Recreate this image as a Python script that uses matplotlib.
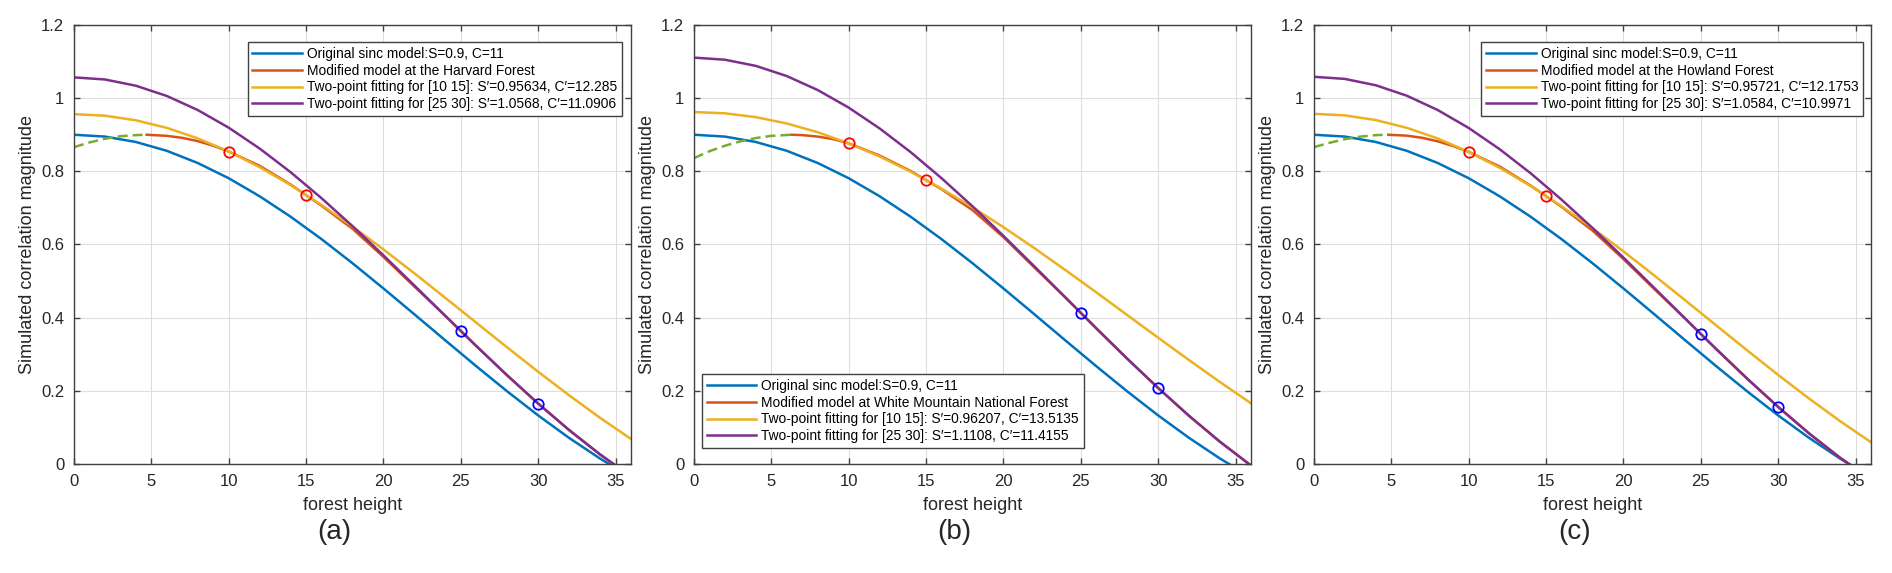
import matplotlib
matplotlib.use("Agg")
import matplotlib.pyplot as plt
from matplotlib.ticker import FuncFormatter

plt.rcParams['font.family'] = ['Liberation Sans', 'DejaVu Sans']

# forest height samples (m)
heights = [0, 2, 4, 6, 8, 10, 12, 14, 16, 18, 20, 22, 24, 26, 28, 30, 32, 34, 36]

# original sinc model, same in all panels
blue = [0.9000, 0.8950, 0.8802, 0.8561, 0.8227, 0.7811, 0.7318, 0.6760, 0.6146, 0.5488,
        0.4799, 0.4092, 0.3379, 0.2673, 0.1985, 0.1328, 0.0713, 0.0148, -0.0359]

# (a) Harvard Forest
orange_a = [0.9563, 0.9521, 0.9395, 0.9188, 0.8902, 0.8542, 0.8114, 0.7624, 0.7080, 0.6491,
            0.5865, 0.5212, 0.4541, 0.3863, 0.3186, 0.2522, 0.1878, 0.1262, 0.0684]
purple_a = [1.0568, 1.0511, 1.0340, 1.0060, 0.9675, 0.9193, 0.8623, 0.7977, 0.7265, 0.6503,
            0.5703, 0.4880, 0.4049, 0.3225, 0.2422, 0.1652, 0.0928, 0.0261, -0.0339]
red_h_a = [4.7, 6, 7, 8, 9, 10, 12, 14, 16, 18, 20, 22, 24, 26, 28, 30, 32, 34, 36]
red_a = [0.900, 0.897, 0.8915, 0.8826, 0.870, 0.8542, 0.815, 0.764, 0.706, 0.643,
         0.566, 0.485, 0.4049, 0.3225, 0.2422, 0.1652, 0.0928, 0.0261, -0.0339]
green_h_a = [0, 1, 2, 3, 4, 4.7]
green_a = [0.866, 0.879, 0.889, 0.896, 0.899, 0.900]
pts_lo_a = [0.8542, 0.7353]
pts_hi_a = [0.3635, 0.1652]

# (b) White Mountain National Forest
orange_b = [0.9621, 0.9586, 0.9481, 0.9308, 0.9068, 0.8766, 0.8405, 0.7990, 0.7525, 0.7018,
            0.6474, 0.5900, 0.5303, 0.4692, 0.4072, 0.3452, 0.2839, 0.2239, 0.1660]
purple_b = [1.1108, 1.1051, 1.0882, 1.0604, 1.0221, 0.9741, 0.9172, 0.8526, 0.7812, 0.7044,
            0.6236, 0.5402, 0.4554, 0.3709, 0.2878, 0.2077, 0.1315, 0.0606, -0.0042]
red_h_b = [6.3, 7, 8, 9, 10, 12, 14, 16, 18, 20, 22, 24, 26, 28, 30, 32, 34, 36]
red_b = [0.900, 0.899, 0.895, 0.888, 0.8766, 0.843, 0.801, 0.751, 0.694, 0.620,
         0.537, 0.4554, 0.3709, 0.2878, 0.2077, 0.1315, 0.0606, -0.0042]
green_h_b = [0, 1, 2, 3, 4, 5, 6.3]
green_b = [0.836, 0.855, 0.870, 0.882, 0.891, 0.897, 0.900]
pts_lo_b = [0.8766, 0.7763]
pts_hi_b = [0.4130, 0.2077]

# (c) Howland Forest
orange_c = [0.9572, 0.9529, 0.9401, 0.9189, 0.8898, 0.8532, 0.8096, 0.7598, 0.7045, 0.6447,
            0.5812, 0.5150, 0.4472, 0.3787, 0.3105, 0.2435, 0.1788, 0.1172, 0.0595]
purple_c = [1.0584, 1.0526, 1.0352, 1.0067, 0.9675, 0.9185, 0.8605, 0.7948, 0.7226, 0.6452,
            0.5642, 0.4810, 0.3971, 0.3140, 0.2332, 0.1559, 0.0835, 0.0171, -0.0426]
red_h_c = [4.8, 6, 7, 8, 9, 10, 12, 14, 16, 18, 20, 22, 24, 26, 28, 30, 32, 34, 36]
red_c = [0.900, 0.8975, 0.8916, 0.882, 0.869, 0.8532, 0.813, 0.761, 0.703, 0.638,
         0.560, 0.478, 0.3971, 0.3140, 0.2332, 0.1559, 0.0835, 0.0171, -0.0426]
green_h_c = [0, 1, 2, 3, 4, 4.8]
green_c = [0.866, 0.878, 0.888, 0.895, 0.899, 0.900]
pts_lo_c = [0.8532, 0.7328]
pts_hi_c = [0.3553, 0.1559]

pair_lo = [10, 15]
pair_hi = [25, 30]

labels_a = ["Original sinc model:S=0.9, C=11",
            "Modified model at the Harvard Forest",
            "Two-point fitting for [10 15]: S\u2032=0.95634, C\u2032=12.285",
            "Two-point fitting for [25 30]: S\u2032=1.0568, C\u2032=11.0906"]
labels_b = ["Original sinc model:S=0.9, C=11",
            "Modified model at White Mountain National Forest",
            "Two-point fitting for [10 15]: S\u2032=0.96207, C\u2032=13.5135",
            "Two-point fitting for [25 30]: S\u2032=1.1108, C\u2032=11.4155"]
labels_c = ["Original sinc model:S=0.9, C=11",
            "Modified model at the Howland Forest",
            "Two-point fitting for [10 15]: S\u2032=0.95721, C\u2032=12.1753",
            "Two-point fitting for [25 30]: S\u2032=1.0584, C\u2032=10.9971"]

C_BLUE = '#0072BD'
C_RED = '#D95319'
C_ORANGE = '#EDB120'
C_PURPLE = '#7E2F8E'
C_GREEN = '#77AC30'

W, H = 1892, 573
fig = plt.figure(figsize=(W / 100, H / 100), dpi=100)

panels = [
    (74, orange_a, purple_a, red_h_a, red_a, green_h_a, green_a, pts_lo_a, pts_hi_a, labels_a,
     'upper right', (0.984, 0.961), '(a)'),
    (694, orange_b, purple_b, red_h_b, red_b, green_h_b, green_b, pts_lo_b, pts_hi_b, labels_b,
     'lower left', (0.0144, 0.0364), '(b)'),
    (1314, orange_c, purple_c, red_h_c, red_c, green_h_c, green_c, pts_lo_c, pts_hi_c, labels_c,
     'upper right', (0.9857, 0.961), '(c)'),
]

ax_w, top, bottom = 557, 25, 464

for (left, orange, purple, rh, red, gh, green, plo, phi, labels, loc, anchor, tag) in panels:
    ax = fig.add_axes([left / W, (H - bottom) / H, ax_w / W, (bottom - top) / H])
    lw = 1.8
    ax.plot(heights, blue, color=C_BLUE, lw=lw, label=labels[0])
    ax.plot(rh, red, color=C_RED, lw=lw, label=labels[1])
    ax.plot(heights, orange, color=C_ORANGE, lw=lw, label=labels[2])
    ax.plot(heights, purple, color=C_PURPLE, lw=lw, label=labels[3])
    ax.plot(gh, green, color=C_GREEN, lw=lw, dashes=(4, 2))
    ax.plot(pair_lo, plo, 'o', color='red', mfc='none', ms=7.5, mew=1.3)
    ax.plot(pair_hi, phi, 'o', color='blue', mfc='none', ms=7.5, mew=1.3)

    ax.set_xlim(0, 36)
    ax.set_ylim(0, 1.2)
    ax.set_xticks([0, 5, 10, 15, 20, 25, 30, 35])
    ax.set_yticks([0, 0.2, 0.4, 0.6, 0.8, 1.0, 1.2])
    ax.yaxis.set_major_formatter(FuncFormatter(lambda v, p: '%g' % round(v, 2)))
    ax.grid(True, color='#dedede', lw=0.8)
    ax.set_axisbelow(True)
    ax.tick_params(direction='in', length=4, width=1, top=True, right=True,
                   labelsize=12, colors='#404040', labelcolor='#262626', pad=7)
    for s in ax.spines.values():
        s.set_color('#404040')
        s.set_linewidth(1)

    ax.set_xlabel('forest height', fontsize=13, color='#262626')
    ax.set_ylabel('Simulated correlation magnitude', fontsize=13, color='#262626')
    ax.xaxis.set_label_coords(0.5, -0.075)
    ax.yaxis.set_label_coords(-0.068, 0.5)

    leg = ax.legend(loc=loc, bbox_to_anchor=anchor, borderaxespad=0, fontsize=9.9,
                    fancybox=False, framealpha=1, edgecolor='#404040',
                    handlelength=3.6, handletextpad=0.37, labelspacing=0.2, borderpad=0.35)
    leg.get_frame().set_linewidth(1)

    fig.text((left + ax_w / 2 - 18) / W, (H - 532) / H, tag, fontsize=20,
             ha='center', va='center', color='#262626')

fig.savefig('out.png', dpi=100)
